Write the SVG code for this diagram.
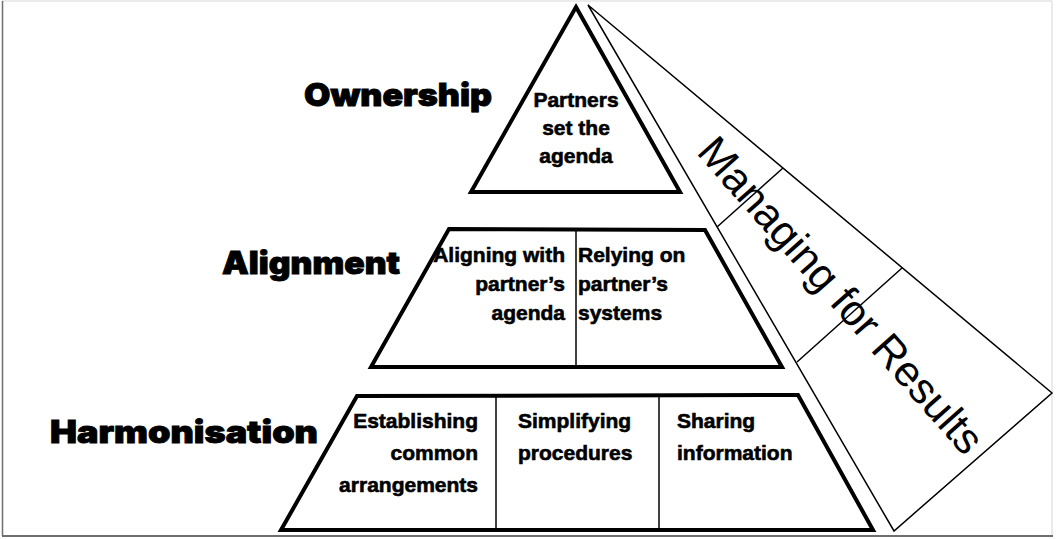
<svg xmlns="http://www.w3.org/2000/svg" width="1056" height="539" viewBox="0 0 1056 539">
  <style>
    .tier { fill: #ffffff; stroke: #000000; stroke-width: 4; stroke-linejoin: miter; }
    .cell { stroke: #000000; stroke-width: 1.5; fill: none; }
    .thin { fill: none; stroke: #000000; stroke-width: 1.5; stroke-linejoin: miter; }
    .lvl { font-family: "Arial Black", "Inter", "Lato", "Roboto", "Liberation Sans", sans-serif; font-weight: 900; font-size: 31px; fill: #000000; stroke: #000000; stroke-width: 0.9; }
    .txt { font-family: "Liberation Sans", Arial, sans-serif; font-weight: bold; font-size: 21px; fill: #000000; stroke: #000000; stroke-width: 0.6; }
    .mfr { font-family: "Liberation Sans", Arial, sans-serif; font-size: 43px; fill: #000000; }
  </style>

  <rect x="0" y="0" width="1056" height="539" fill="#ffffff"/>

  <!-- frame -->
  <g id="frame">
    <line x1="2" y1="1" x2="1052" y2="1" stroke="#e4e4e4" stroke-width="1.5"/>
    <line x1="1052" y1="1" x2="1052" y2="536" stroke="#e4e4e4" stroke-width="1.5"/>
    <line x1="2.5" y1="1" x2="2.5" y2="536" stroke="#6e6e6e" stroke-width="1.5"/>
    <line x1="2" y1="536" x2="1053" y2="536" stroke="#6e6e6e" stroke-width="2"/>
  </g>

  <!-- managing for results band -->
  <g id="results">
    <polygon class="thin" points="588,5 1052,393 894,531"/>
    <line class="thin" x1="717" y1="227" x2="783" y2="168"/>
    <line class="thin" x1="797" y1="362" x2="902" y2="268"/>
    <text class="mfr" text-anchor="middle" transform="translate(830,305) rotate(48.5)">Managing for Results</text>
  </g>

  <!-- top tier -->
  <g id="ownership">
    <polygon class="tier" points="576,7 680,192 471,192"/>
    <text class="lvl" x="304" y="106" textLength="188" lengthAdjust="spacingAndGlyphs">Ownership</text>
    <text class="txt" text-anchor="middle" x="576" y="107">Partners</text>
    <text class="txt" text-anchor="middle" x="576" y="135">set the</text>
    <text class="txt" text-anchor="middle" x="576" y="163">agenda</text>
  </g>

  <!-- middle tier -->
  <g id="alignment">
    <polygon class="tier" points="449,229 705,230 782,367 371,367"/>
    <line class="cell" x1="576" y1="230" x2="576" y2="367"/>
    <text class="lvl" x="222" y="274" textLength="178" lengthAdjust="spacingAndGlyphs">Alignment</text>
    <text class="txt" text-anchor="end" x="565" y="262">Aligning with</text>
    <text class="txt" text-anchor="end" x="565" y="291">partner’s</text>
    <text class="txt" text-anchor="end" x="565" y="320">agenda</text>
    <text class="txt" x="578" y="262">Relying on</text>
    <text class="txt" x="578" y="291">partner’s</text>
    <text class="txt" x="578" y="320">systems</text>
  </g>

  <!-- bottom tier -->
  <g id="harmonisation">
    <polygon class="tier" points="357,396 798,395 873,530 281,530"/>
    <line class="cell" x1="496" y1="396" x2="496" y2="530"/>
    <line class="cell" x1="659" y1="396" x2="659" y2="530"/>
    <text class="lvl" x="50" y="443" textLength="268" lengthAdjust="spacingAndGlyphs">Harmonisation</text>
    <text class="txt" text-anchor="end" x="478" y="428">Establishing</text>
    <text class="txt" text-anchor="end" x="478" y="460">common</text>
    <text class="txt" text-anchor="end" x="478" y="492">arrangements</text>
    <text class="txt" x="518" y="428">Simplifying</text>
    <text class="txt" x="518" y="460">procedures</text>
    <text class="txt" x="677" y="428">Sharing</text>
    <text class="txt" x="677" y="460">information</text>
  </g>
</svg>
